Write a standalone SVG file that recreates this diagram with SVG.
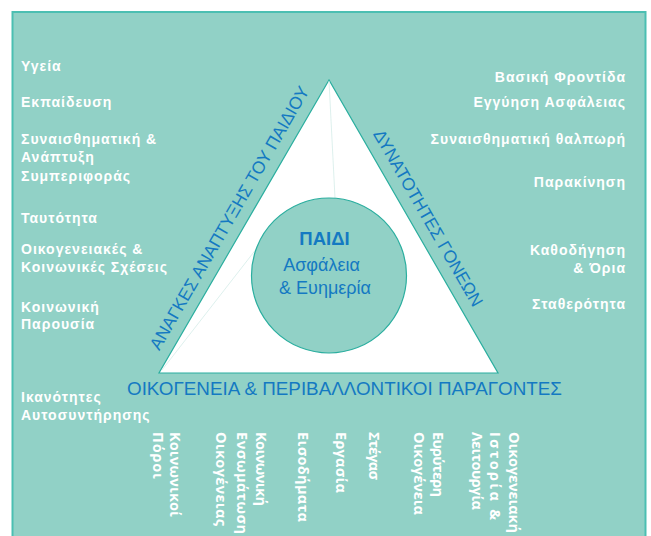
<svg xmlns="http://www.w3.org/2000/svg" width="651" height="536" viewBox="0 0 651 536">
  <style>
    .side { font-family: "Liberation Sans", Arial, sans-serif; font-size: 14px; font-weight: bold; fill: #ffffff; letter-spacing: 1px; }
    .right { text-anchor: end; }
    .edge { font-family: "Liberation Sans", Arial, sans-serif; font-size: 17.5px; fill: #1479c2; }
    .core { font-family: "Liberation Sans", Arial, sans-serif; fill: #1479c2; text-anchor: middle; }
    .col { font-family: "Open Sans", "DejaVu Sans", sans-serif; font-size: 14.5px; font-weight: 700; fill: #ffffff; }
    .hint { stroke: #d4ece8; stroke-width: 0.8; fill: none; }
  </style>

  <!-- panel -->
  <rect id="panel" x="12.5" y="12" width="633" height="540" fill="#91d1c6" stroke="#4bbfb2" stroke-width="2"/>

  <!-- triangle -->
  <g id="triangle">
    <polygon points="329,80 159,373 498,373" fill="#ffffff" stroke="#2bae9f" stroke-width="1.2"/>
  </g>

  <g id="connectors">
    <line class="hint" x1="329" y1="81" x2="335" y2="198"/>
    <line class="hint" x1="162" y1="370" x2="257" y2="248"/>
  </g>

  <!-- centre -->
  <g id="child">
    <circle cx="329" cy="275.5" r="77.5" fill="#91d1c6" stroke="#2bae9f" stroke-width="1.2"/>
    <text class="core" x="324.5" y="245" font-size="18.5" font-weight="bold">ΠΑΙΔΙ</text>
    <text class="core" x="321.5" y="271" font-size="18">Ασφάλεια</text>
    <text class="core" x="325" y="293.5" font-size="18">&amp; Ευημερία</text>
  </g>

  <!-- triangle side labels -->
  <g id="edge-left">
    <text class="edge" text-anchor="middle" textLength="301" lengthAdjust="spacingAndGlyphs" transform="translate(234.5,221) rotate(-60)">ΑΝΑΓΚΕΣ ΑΝΑΠΤΥΞΗΣ ΤΟΥ ΠΑΙΔΙΟΥ</text>
  </g>
  <g id="edge-right">
    <text class="edge" text-anchor="middle" textLength="201" lengthAdjust="spacingAndGlyphs" transform="translate(423,221) rotate(60)">ΔΥΝΑΤΟΤΗΤΕΣ ΓΟΝΕΩΝ</text>
  </g>
  <g id="edge-bottom">
    <text class="edge" text-anchor="middle" x="344.5" y="395" textLength="435" lengthAdjust="spacingAndGlyphs">ΟΙΚΟΓΕΝΕΙΑ &amp; ΠΕΡΙΒΑΛΛΟΝΤΙΚΟΙ ΠΑΡΑΓΟΝΤΕΣ</text>
  </g>

  <!-- child development needs -->
  <g id="needs">
    <text class="side" x="21" y="71">Υγεία</text>
    <text class="side" x="21" y="107">Εκπαίδευση</text>
    <text class="side" x="21" y="144">Συναισθηματική &amp;</text>
    <text class="side" x="21" y="162">Ανάπτυξη</text>
    <text class="side" x="21" y="181">Συμπεριφοράς</text>
    <text class="side" x="21" y="223">Ταυτότητα</text>
    <text class="side" x="21" y="254">Οικογενειακές &amp;</text>
    <text class="side" x="21" y="272">Κοινωνικές Σχέσεις</text>
    <text class="side" x="21" y="312">Κοινωνική</text>
    <text class="side" x="21" y="329">Παρουσία</text>
    <text class="side" x="21" y="402">Ικανότητες</text>
    <text class="side" x="21" y="420">Αυτοσυντήρησης</text>
  </g>

  <!-- parenting capacity -->
  <g id="capacity">
    <text class="side right" x="626" y="82">Βασική Φροντίδα</text>
    <text class="side right" x="626" y="107">Εγγύηση Ασφάλειας</text>
    <text class="side right" x="626" y="144">Συναισθηματική θαλπωρή</text>
    <text class="side right" x="626" y="187">Παρακίνηση</text>
    <text class="side right" x="626" y="255">Καθοδήγηση</text>
    <text class="side right" x="626" y="273">&amp; Όρια</text>
    <text class="side right" x="626" y="309">Σταθερότητα</text>
  </g>

  <!-- family and environmental factors -->
  <g id="factors">
    <text class="col" textLength="85" lengthAdjust="spacing" transform="translate(170,432) rotate(90)">Κοινωνικοί</text>
    <text class="col" textLength="47" lengthAdjust="spacing" transform="translate(153,432) rotate(90)">Πόροι</text>
    <text class="col" textLength="74" lengthAdjust="spacing" transform="translate(256,432) rotate(90)">Κοινωνική</text>
    <text class="col" textLength="102" lengthAdjust="spacing" transform="translate(237,432) rotate(90)">Ενσωμάτωση</text>
    <text class="col" textLength="94" lengthAdjust="spacing" transform="translate(216,432) rotate(90)">Οικογένειας</text>
    <text class="col" textLength="90" lengthAdjust="spacing" transform="translate(298,432) rotate(90)">Εισοδήματα</text>
    <text class="col" textLength="61" lengthAdjust="spacing" transform="translate(336,432) rotate(90)">Εργασία</text>
    <text class="col" textLength="48" lengthAdjust="spacing" transform="translate(369,432) rotate(90)">Στέγασ</text>
    <text class="col" textLength="65" lengthAdjust="spacing" transform="translate(433,432) rotate(90)">Ευρύτερη</text>
    <text class="col" textLength="83" lengthAdjust="spacing" transform="translate(414,432) rotate(90)">Οικογένεια</text>
    <text class="col" textLength="101" lengthAdjust="spacing" transform="translate(509,432) rotate(90)">Οικογενειακή</text>
    <text class="col" textLength="88" lengthAdjust="spacing" transform="translate(490,432) rotate(90)">Ιστορία &amp;</text>
    <text class="col" textLength="78" lengthAdjust="spacing" transform="translate(472,432) rotate(90)">Λειτουργία</text>
  </g>
</svg>
